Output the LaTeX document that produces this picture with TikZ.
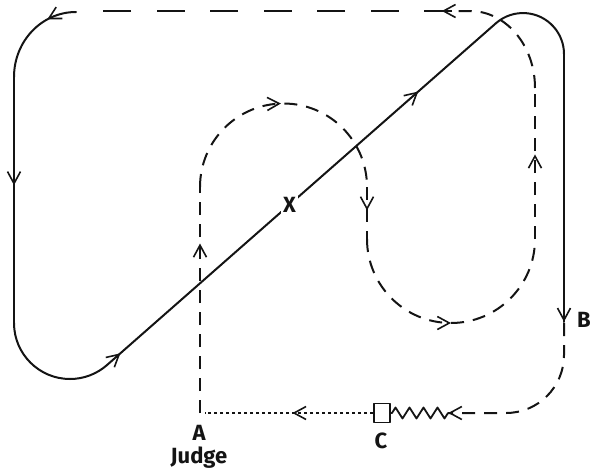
\documentclass[tikz,border=0pt]{standalone}
\usepackage{fontspec}
\setmainfont{Fira Sans}
\usetikzlibrary{arrows.meta, decorations.markings, decorations.pathmorphing}
\definecolor{ink}{HTML}{141414}
\tikzset{el/.style={line cap=round, line join=round},
  trk/.style={ink, line width=2pt},
  dsh/.style={ink, line width=2pt, line cap=butt, dash pattern=on 13pt off 9pt},
  ldsh/.style={ink, line width=2pt, line cap=butt, dash pattern=on 28pt off 25.5pt},
  dts/.style={ink, line width=2pt, line cap=butt, dash pattern=on 3pt off 3pt},
  tip/.style={postaction={decorate, decoration={markings, mark=at position #1 with {\arrow{Straight Barb[length=12pt, width=13pt, line width=1.6pt]}}}}},
  lbl/.style={font=\bfseries\fontsize{22}{22}\selectfont, text=ink, inner sep=1pt}}

\begin{document}
\begin{tikzpicture}[el, x=1pt, y=-1pt]
  \useasboundingbox (0,0) rectangle (591,471);
  \draw[trk, tip=0.3] (76,12) arc[start angle=270, end angle=180, x radius=62, y radius=65];
  \draw[trk, tip=0.44] (14,77) -- (14,323);
  \draw[trk] (14,323) arc[start angle=180, end angle=49, radius=56];
  \draw[trk, tip=0.035, tip=0.8] (106.7,365.3) -- (496.1,23.1);
  \draw[trk] (496.1,23.1) arc[start angle=229, end angle=360, radius=41];
  \draw[trk, tip=0.999] (564,54) -- (564,322);
  \draw[dsh, tip=0.75] (200,413) -- (200,187);
  \draw[dsh, tip=0.49] (200,187) arc[start angle=180, end angle=360, radius=83.5];
  \draw[dsh, tip=0.45] (367,187) -- (367,239);
  \draw[dsh, tip=0.5] (367,239) arc[start angle=180, end angle=0, radius=84];
  \draw[dsh, tip=0.56] (535,239) -- (535,88);
  \draw[dsh] (535,88) arc[start angle=0, end angle=-90, x radius=65, y radius=77] -- (452,11);
  \draw[ldsh, tip=0.029] (452,11) -- (103,11);
  \draw[dsh, tip=0.999] (564,323) -- (564,355) arc[start angle=0, end angle=90, radius=58] -- (448,413);
  \draw[trk, line width=1.8pt, decorate, decoration={zigzag, segment length=14pt, amplitude=5.5pt}] (448,413) -- (391,413);
  \node[draw=ink, fill=white, line width=1.8pt, minimum width=16pt, minimum height=19pt, inner sep=0pt] (cbox) at (382,413) {};
  \draw[dts, tip=0.48] (cbox.west) -- (205,413);
  \node[lbl, anchor=base] (a) at (199,440) {A};
  \node[lbl, anchor=base] (judge) at (199,463) {Judge};
  \node[lbl, anchor=base] (c) at (381,448) {C};
  \node[lbl, anchor=base east, inner sep=0pt] (b) at (591,327) {B};
  \node[lbl, anchor=base, fill=white, inner sep=2pt] (x) at (289.5,212) {X};
\end{tikzpicture}
\end{document}
